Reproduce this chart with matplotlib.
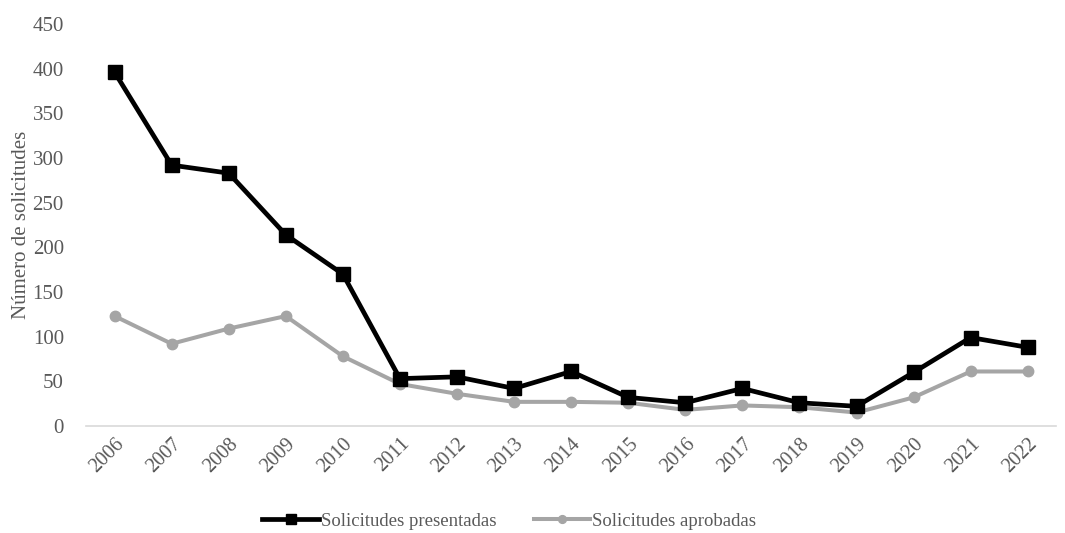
import matplotlib
matplotlib.use("Agg")
import matplotlib.pyplot as plt

# Datos
anios = [str(a) for a in range(2006, 2023)]
presentadas = [396, 292, 283, 214, 170, 53, 55, 42, 61, 32, 26, 42, 26, 22, 60, 99, 88]
aprobadas = [123, 92, 109, 123, 78, 47, 36, 27, 27, 26, 18, 23, 21, 15, 32, 61, 61]

plt.rcParams['font.family'] = ['Liberation Serif', 'DejaVu Serif']
gris_texto = '#595959'

fig = plt.figure(figsize=(10.65, 5.33), dpi=100)
ax = fig.add_axes([0.0808, 0.2008, 0.911, 0.7542])

x = range(len(anios))
ax.plot(x, presentadas, color='black', linewidth=3.4, marker='s', markersize=10,
        label='Solicitudes presentadas', zorder=3)
ax.plot(x, aprobadas, color='#a5a5a5', linewidth=2.9, marker='o', markersize=7.5,
        label='Solicitudes aprobadas', zorder=2)

ax.set_xlim(-0.5, len(anios) - 0.5)
ax.set_ylim(0, 450)
ax.set_yticks(range(0, 451, 50))
ax.set_xticks(list(x))
ax.set_xticklabels(anios, rotation=45, ha='right', rotation_mode='anchor')
ax.tick_params(axis='both', length=0, colors=gris_texto)
ax.tick_params(axis='x', pad=6, labelsize=14.5)
ax.tick_params(axis='y', pad=16, labelsize=15)

for s in ['top', 'right', 'left']:
    ax.spines[s].set_visible(False)
ax.spines['bottom'].set_color('#d9d9d9')
ax.spines['bottom'].set_linewidth(1.2)

ax.set_ylabel('Número de solicitudes', fontsize=15, color=gris_texto, labelpad=1)

fig.legend(loc='center', bbox_to_anchor=(0.478, 0.022), ncol=2, frameon=False,
           fontsize=13.5, labelcolor=gris_texto, handlelength=3.0,
           handletextpad=0.1, columnspacing=2.0, markerscale=0.75)

fig.savefig('out.png', dpi=100)
